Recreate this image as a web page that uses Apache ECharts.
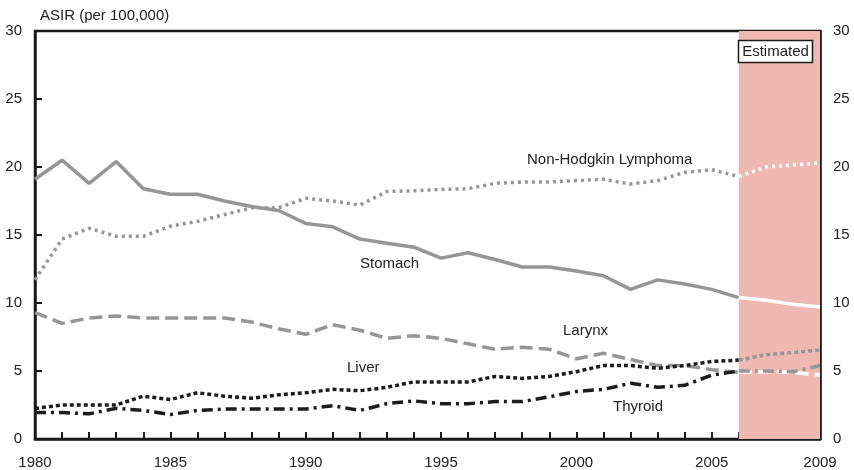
<!DOCTYPE html>
<html>
<head>
<meta charset="utf-8">
<script src="https://cdn.jsdelivr.net/npm/echarts@6/dist/echarts.min.js"></script>
<style>
  html, body { margin: 0; padding: 0; background: #fff; }
  #main { width: 854px; height: 470px; }
</style>
</head>
<body>
<div id="main"></div>
<script>
// data
const years = [1980, 1981, 1982, 1983, 1984, 1985, 1986, 1987, 1988, 1989,
  1990, 1991, 1992, 1993, 1994, 1995, 1996, 1997, 1998, 1999,
  2000, 2001, 2002, 2003, 2004, 2005, 2006, 2007, 2008, 2009];
const xTickLabels = [1980, 1985, 1990, 1995, 2000, 2005, 2009];
const yTicks = [0, 5, 10, 15, 20, 25, 30];
const estimatedFrom = 2006;

const stomach = [19.1, 20.5, 18.8, 20.4, 18.4, 18.0, 18.0, 17.5, 17.1, 16.8,
  15.85, 15.6, 14.7, 14.4, 14.1, 13.3, 13.7, 13.2, 12.65, 12.65,
  12.35, 12.0, 11.0, 11.7, 11.4, 11.0, 10.4, 10.2, 9.9, 9.7];
const nhl = [11.7, 14.7, 15.5, 14.9, 14.9, 15.65, 16.0, 16.5, 17.0, 17.0,
  17.7, 17.5, 17.2, 18.2, 18.25, 18.35, 18.4, 18.8, 18.9, 18.9,
  19.0, 19.1, 18.75, 19.0, 19.6, 19.8, 19.3, 20.0, 20.15, 20.3];
const larynx = [9.3, 8.5, 8.9, 9.05, 8.9, 8.9, 8.9, 8.9, 8.6, 8.1,
  7.7, 8.4, 8.0, 7.4, 7.6, 7.4, 7.0, 6.6, 6.75, 6.6,
  5.9, 6.3, 5.85, 5.4, 5.4, 5.1, 4.9, 4.95, 4.9, 4.7];
const liver = [2.25, 2.5, 2.5, 2.5, 3.15, 2.9, 3.4, 3.15, 3.0, 3.25,
  3.4, 3.65, 3.55, 3.8, 4.2, 4.2, 4.2, 4.6, 4.45, 4.6,
  4.95, 5.4, 5.4, 5.2, 5.4, 5.7, 5.8, 6.2, 6.35, 6.55];
const thyroid = [1.95, 1.95, 1.85, 2.25, 2.1, 1.8, 2.1, 2.2, 2.2, 2.2,
  2.2, 2.45, 2.1, 2.6, 2.8, 2.6, 2.6, 2.75, 2.75, 3.1,
  3.5, 3.65, 4.1, 3.8, 3.95, 4.7, 5.0, 5.0, 4.95, 5.4];

const FONT = '"Liberation Sans", Arial, sans-serif';
const FS = 15;
const GRAY = '#969696';
const DARK = '#1c1c1c';
const PINK = '#efb8b3';

const cut = years.indexOf(estimatedFrom);

function pairs(vals, from, to) {
  const out = [];
  for (let i = from; i <= to; i++) out.push([years[i], vals[i]]);
  return out;
}

// each cancer: observed part + estimated part (different colour)
const lines = [
  { name: 'Stomach', vals: stomach, dash: 'solid', obs: GRAY, est: '#fff' },
  { name: 'Non-Hodgkin Lymphoma', vals: nhl, dash: [3, 4], obs: GRAY, est: '#fff' },
  { name: 'Larynx', vals: larynx, dash: [13, 6], obs: GRAY, est: '#fff' },
  { name: 'Thyroid', vals: thyroid, dash: [11, 5, 3, 5], obs: DARK, est: GRAY },
  { name: 'Liver', vals: liver, dash: [4, 3], obs: DARK, est: GRAY }
];

const series = [{
  type: 'line',
  data: [],
  z: 1,
  markArea: {
    silent: true,
    itemStyle: { color: PINK },
    data: [[{ xAxis: estimatedFrom }, { xAxis: years[years.length - 1] }]]
  }
}];

lines.forEach((l) => {
  series.push({
    name: l.name,
    type: 'line',
    z: 3,
    symbol: 'none',
    lineStyle: { color: l.obs, width: 3.5, type: l.dash, cap: 'butt' },
    data: pairs(l.vals, 0, cut)
  });
  series.push({
    name: l.name + ' (est)',
    type: 'line',
    z: 3,
    symbol: 'none',
    lineStyle: { color: l.est, width: 3.5, type: l.dash, cap: 'butt' },
    data: pairs(l.vals, cut, years.length - 1)
  });
});

const labelStyle = { fontFamily: FONT, fontSize: FS, fill: '#222' };

const option = {
  animation: false,
  grid: {
    left: 35, right: 34, top: 31, bottom: 31,
    show: true, borderColor: '#1a1a1a', borderWidth: 2.5
  },
  xAxis: {
    type: 'value',
    min: 1980,
    max: 2009,
    interval: 1,
    splitLine: { show: false },
    axisLine: { lineStyle: { color: '#1a1a1a', width: 2.5 } },
    axisTick: { inside: true, length: 7, lineStyle: { color: '#1a1a1a', width: 2 } },
    axisLabel: {
      margin: 16,
      fontFamily: FONT, fontSize: FS, color: '#222',
      showMinLabel: true, showMaxLabel: true,
      formatter: (v) => (xTickLabels.indexOf(v) >= 0 ? String(v) : '')
    }
  },
  yAxis: [0, 1].map((i) => ({
    type: 'value',
    position: i === 0 ? 'left' : 'right',
    min: yTicks[0],
    max: yTicks[yTicks.length - 1],
    interval: 5,
    splitLine: { show: false },
    axisLine: { show: true, lineStyle: { color: '#1a1a1a', width: 2.5 } },
    axisTick: { show: true, inside: true, length: 7, lineStyle: { color: '#1a1a1a', width: 2 } },
    axisLabel: { margin: 13, fontFamily: FONT, fontSize: FS, color: '#222' }
  })),
  series: series,
  graphic: [
    { type: 'text', left: 40, top: 8, style: Object.assign({ text: 'ASIR (per 100,000)' }, labelStyle) },
    { type: 'text', left: 527, top: 152, style: Object.assign({ text: 'Non-Hodgkin Lymphoma' }, labelStyle) },
    { type: 'text', left: 360, top: 256, style: Object.assign({ text: 'Stomach' }, labelStyle) },
    { type: 'text', left: 563, top: 323, style: Object.assign({ text: 'Larynx' }, labelStyle) },
    { type: 'text', left: 347, top: 360, style: Object.assign({ text: 'Liver' }, labelStyle) },
    { type: 'text', left: 613, top: 399, style: Object.assign({ text: 'Thyroid' }, labelStyle) },
    {
      type: 'rect', z: 10,
      shape: { x: 738.5, y: 40.5, width: 74, height: 22 },
      style: { fill: '#fff', stroke: '#1a1a1a', lineWidth: 1.5 }
    },
    {
      type: 'text', z: 11, x: 775.5, y: 52,
      style: Object.assign({ text: 'Estimated', align: 'center', verticalAlign: 'middle' }, labelStyle)
    }
  ]
};

const chart = echarts.init(document.getElementById('main'), null, { renderer: 'canvas' });
chart.setOption(option);
</script>
</body>
</html>
